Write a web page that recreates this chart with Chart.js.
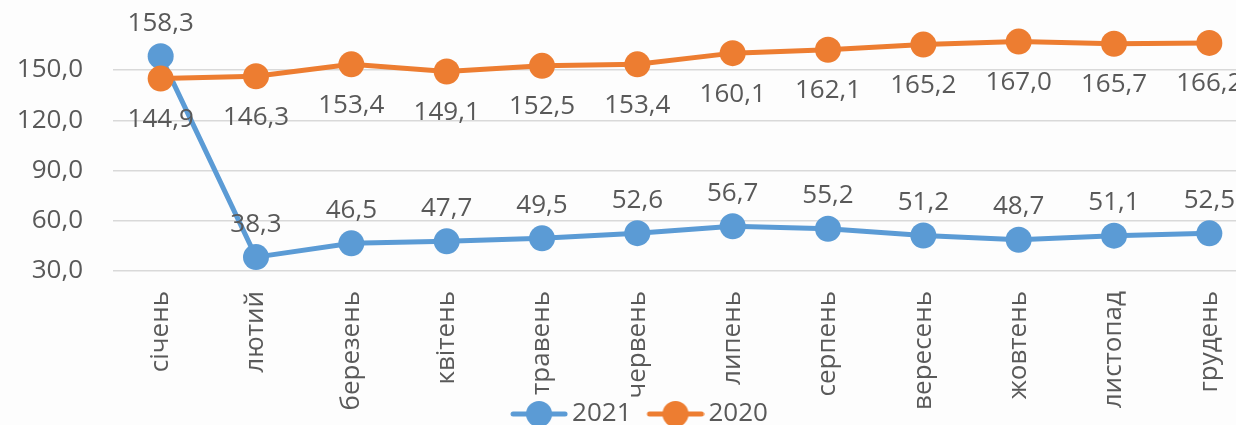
<!DOCTYPE html>
<html>
<head>
<meta charset="utf-8">
<script src="https://cdn.jsdelivr.net/npm/chart.js@4"></script>
<style>
	html, body { margin: 0; padding: 0; background: #fdfdfd; overflow: hidden; }
	#wrap { width: 1270px; height: 437px; }
</style>
</head>
<body>
<div id="wrap"><canvas id="chart"></canvas></div>
<script>
'use strict'

const months = ['січень', 'лютий', 'березень', 'квітень', 'травень', 'червень',
	'липень', 'серпень', 'вересень', 'жовтень', 'листопад', 'грудень'];
const values2021 = [158.3, 38.3, 46.5, 47.7, 49.5, 52.6, 56.7, 55.2, 51.2, 48.7, 51.1, 52.5];
const values2020 = [144.9, 146.3, 153.4, 149.1, 152.5, 153.4, 160.1, 162.1, 165.2, 167.0, 165.7, 166.2];
const yTicks = [30, 60, 90, 120, 150];

const blue = '#5B9BD5';
const orange = '#ED7D31';
const textColor = '#595959';
const fontFamily = '"Open Sans", sans-serif';
const fontSize = 26;

let fmt = (v) => v.toFixed(1).replace('.', ',');

// legend marker: line with a circle on it, transparent room on the left for spacing
let makeMarker = (color) => {
	let c = document.createElement('canvas');
	c.width = 82;
	c.height = 28;
	let ctx = c.getContext('2d');
	ctx.strokeStyle = color;
	ctx.lineWidth = 5;
	ctx.lineCap = 'round';
	ctx.beginPath();
	ctx.moveTo(27, 14);
	ctx.lineTo(79, 14);
	ctx.stroke();
	ctx.fillStyle = color;
	ctx.beginPath();
	ctx.arc(53, 14, 13, 0, Math.PI * 2);
	ctx.fill();
	return c;
};

// long month names run into the legend band, so don't clip them at the axis box
let unclipLabels = {
	id: 'unclipLabels',
	afterLayout: (chart) => {
		chart.scales.x.bottom = chart.height;
	}
};

let valueLabels = {
	id: 'valueLabels',
	afterDatasetsDraw: (chart) => {
		let ctx = chart.ctx;
		ctx.save();
		ctx.font = fontSize + 'px ' + fontFamily;
		ctx.fillStyle = textColor;
		ctx.textAlign = 'center';
		ctx.textBaseline = 'middle';
		chart.data.datasets.forEach((ds, i) => {
			let meta = chart.getDatasetMeta(i);
			meta.data.forEach((pt, j) => {
				let dy = ds.labelPos === 'above' ? -33 : 41;
				ctx.fillText(fmt(ds.data[j]), pt.x, pt.y + dy);
			});
		});
		ctx.restore();
	}
};

new Chart(document.getElementById('chart'), {
	type: 'line',
	data: {
		labels: months,
		datasets: [
			{
				label: '2021',
				data: values2021,
				labelPos: 'above',
				borderColor: blue,
				backgroundColor: blue,
				borderWidth: 5,
				pointRadius: 13,
				pointHoverRadius: 13,
				pointBorderWidth: 0,
				order: 1,
				clip: false
			},
			{
				label: '2020',
				data: values2020,
				labelPos: 'below',
				borderColor: orange,
				backgroundColor: orange,
				borderWidth: 5,
				pointRadius: 13,
				pointHoverRadius: 13,
				pointBorderWidth: 0,
				order: 0,
				clip: false
			}
		]
	},
	options: {
		responsive: true,
		maintainAspectRatio: false,
		animation: false,
		layout: { padding: { left: 0, right: 7, top: 0, bottom: 0 } },
		plugins: {
			tooltip: { enabled: false },
			legend: {
				position: 'bottom',
				labels: {
					color: textColor,
					font: { family: fontFamily, size: fontSize, lineHeight: 1 },
					usePointStyle: true,
					pointStyleWidth: 64,
					padding: 0,
					generateLabels: (chart) => chart.data.datasets.map((ds, i) => ({
						text: ds.label,
						pointStyle: makeMarker(ds.borderColor),
						fillStyle: ds.borderColor,
						strokeStyle: ds.borderColor,
						lineWidth: 0,
						fontColor: textColor,
						hidden: false,
						datasetIndex: i
					}))
				}
			}
		},
		scales: {
			x: {
				offset: true,
				grid: { display: false, drawTicks: false },
				border: { display: false },
				ticks: {
					color: textColor,
					font: { family: fontFamily, size: fontSize },
					minRotation: 90,
					maxRotation: 90,
					padding: 20,
					autoSkip: false
				},
				afterFit: (scale) => { scale.height = 130; }
			},
			y: {
				min: 30,
				max: 164.6,
				grid: { color: '#d9d9d9', lineWidth: 1.5, drawTicks: false },
				border: { display: false },
				afterFit: (scale) => { scale.width = 113; },
				afterBuildTicks: (scale) => { scale.ticks = yTicks.map((v) => ({ value: v })); },
				ticks: {
					color: textColor,
					font: { family: fontFamily, size: fontSize },
					padding: 30,
					callback: (v) => fmt(v)
				}
			}
		}
	},
	plugins: [unclipLabels, valueLabels]
});
</script>
</body>
</html>
